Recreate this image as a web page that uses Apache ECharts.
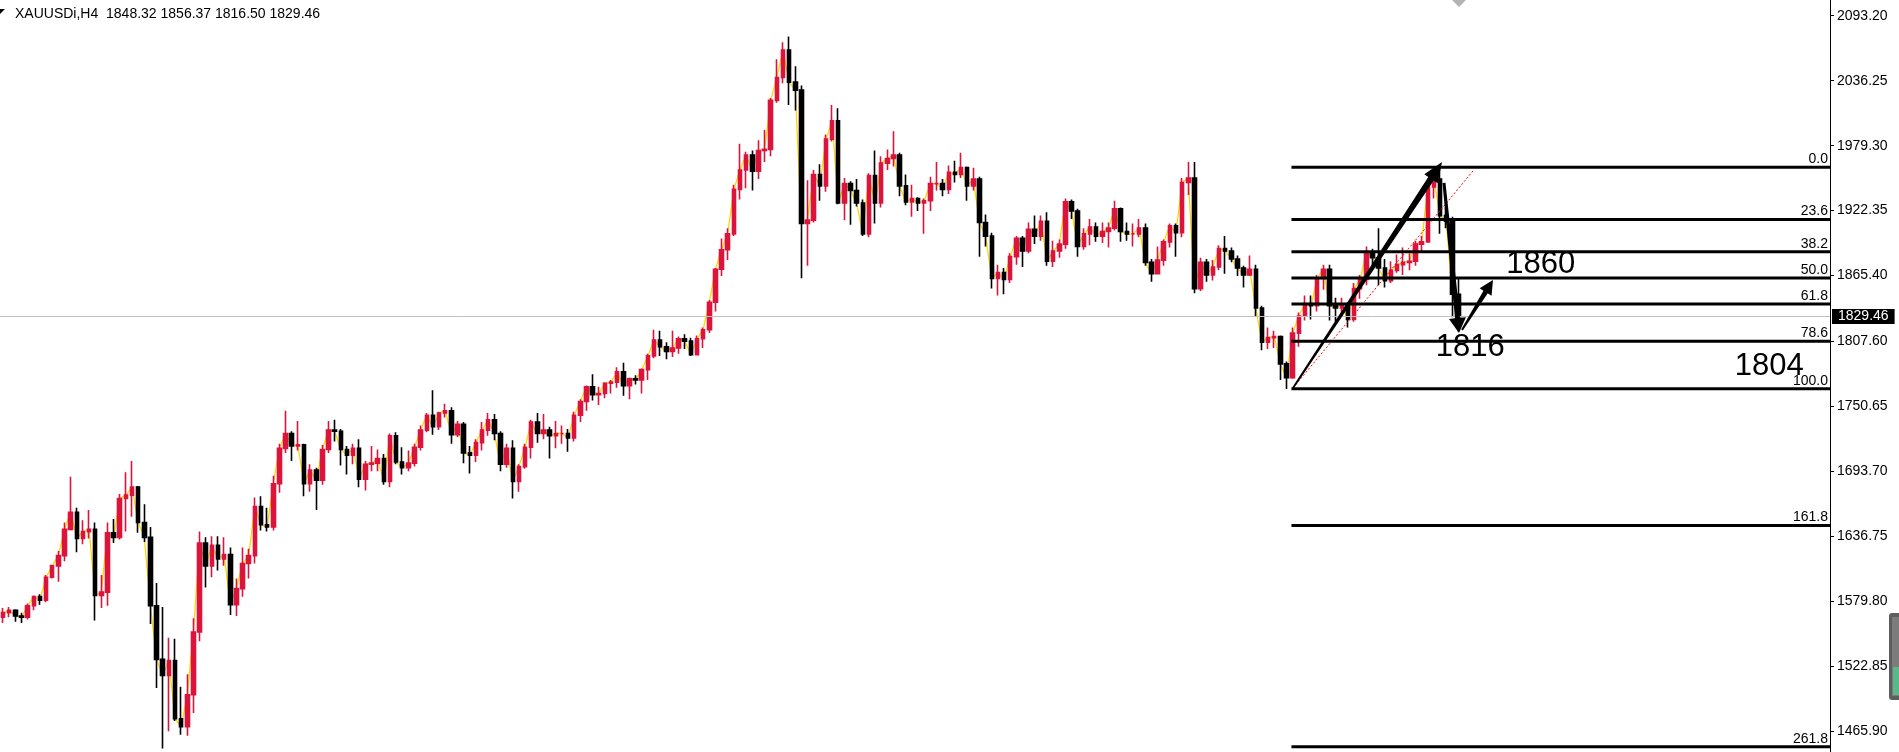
<!DOCTYPE html>
<html>
<head>
<meta charset="utf-8">
<script src="https://cdn.jsdelivr.net/npm/echarts@6/dist/echarts.min.js"></script>
<style>html,body{margin:0;padding:0;background:#fff}#c{width:1899px;height:752px}</style>
</head>
<body>
<div id="c"></div>
<script>
// ---------- data ----------
const symbolName = 'XAUUSDi,H4';
const lastBar = [1848.32, 1856.37, 1816.50, 1829.46];   // O H L C shown in the header
const currentPrice = 1829.46;

// [date, open, high, low, close]
const bars = [
['2020-02-07',1566,1574,1561,1570],['2020-02-10',1570,1575,1566,1572],['2020-02-11',1572,1573,1562,1567],
['2020-02-12',1567,1570,1561,1566],['2020-02-13',1566,1578,1564,1576],['2020-02-14',1576,1585,1572,1584],
['2020-02-17',1584,1586,1577,1581],['2020-02-18',1581,1603,1579,1601],['2020-02-19',1601,1612,1600,1611],
['2020-02-20',1611,1624,1597,1620],['2020-02-21',1620,1649,1615,1643],['2020-02-24',1643,1689,1642,1658],
['2020-02-25',1658,1662,1623,1635],['2020-02-26',1635,1651,1630,1641],['2020-02-27',1641,1660,1635,1643],
['2020-02-28',1643,1649,1563,1585],['2020-03-02',1585,1603,1574,1588],['2020-03-03',1588,1649,1576,1640],
['2020-03-04',1640,1652,1631,1636],['2020-03-05',1636,1674,1634,1670],['2020-03-06',1670,1693,1641,1673],
['2020-03-09',1673,1703,1654,1680],['2020-03-10',1680,1681,1640,1649],['2020-03-11',1649,1665,1632,1636],
['2020-03-12',1636,1645,1560,1576],['2020-03-13',1576,1596,1504,1529],['2020-03-16',1529,1575,1451,1515],
['2020-03-17',1515,1548,1466,1528],['2020-03-18',1528,1547,1475,1477],['2020-03-19',1477,1505,1463,1470],
['2020-03-20',1470,1516,1462,1498],['2020-03-23',1498,1565,1482,1553],['2020-03-24',1553,1641,1545,1631],
['2020-03-25',1631,1636,1592,1611],['2020-03-26',1611,1637,1601,1629],['2020-03-27',1629,1637,1607,1617],
['2020-03-30',1617,1636,1611,1621],['2020-03-31',1621,1627,1568,1577],['2020-04-01',1577,1600,1567,1591],
['2020-04-02',1591,1627,1584,1613],['2020-04-03',1613,1626,1600,1620],['2020-04-06',1620,1671,1613,1663],
['2020-04-07',1663,1672,1642,1647],['2020-04-08',1647,1662,1641,1645],['2020-04-09',1645,1690,1642,1683],
['2020-04-13',1683,1718,1675,1714],['2020-04-14',1714,1747,1710,1727],['2020-04-15',1727,1729,1703,1716],
['2020-04-16',1716,1738,1712,1717],['2020-04-17',1717,1718,1672,1683],['2020-04-20',1683,1700,1676,1695],
['2020-04-21',1695,1697,1660,1686],['2020-04-22',1686,1717,1682,1713],['2020-04-23',1713,1738,1710,1730],
['2020-04-24',1730,1739,1720,1729],['2020-04-27',1729,1731,1699,1713],['2020-04-28',1713,1716,1691,1708],
['2020-04-29',1708,1718,1700,1714],['2020-04-30',1714,1722,1680,1687],['2020-05-01',1687,1703,1677,1700],
['2020-05-04',1700,1716,1694,1701],['2020-05-05',1701,1713,1694,1705],['2020-05-06',1705,1709,1682,1685],
['2020-05-07',1685,1727,1680,1725],['2020-05-08',1725,1728,1700,1702],['2020-05-11',1702,1715,1691,1697],
['2020-05-12',1697,1712,1694,1701],['2020-05-13',1701,1718,1698,1715],['2020-05-14',1715,1734,1712,1730],
['2020-05-15',1730,1745,1728,1743],['2020-05-18',1743,1765,1726,1733],['2020-05-19',1733,1746,1730,1745],
['2020-05-20',1745,1753,1741,1747],['2020-05-21',1747,1750,1718,1726],['2020-05-22',1726,1738,1724,1735],
['2020-05-26',1735,1737,1701,1710],['2020-05-27',1710,1716,1692,1708],['2020-05-28',1708,1722,1702,1719],
['2020-05-29',1719,1737,1712,1730],['2020-06-01',1730,1745,1725,1739],['2020-06-02',1739,1744,1721,1727],
['2020-06-03',1727,1729,1694,1700],['2020-06-04',1700,1718,1697,1714],['2020-06-05',1714,1721,1670,1685],
['2020-06-08',1685,1700,1676,1698],['2020-06-09',1698,1718,1696,1715],['2020-06-10',1715,1739,1705,1737],
['2020-06-11',1737,1745,1719,1727],['2020-06-12',1727,1744,1722,1730],['2020-06-15',1730,1733,1705,1725],
['2020-06-16',1725,1738,1714,1727],['2020-06-17',1727,1734,1718,1727],['2020-06-18',1727,1731,1711,1723],
['2020-06-19',1723,1746,1720,1743],['2020-06-22',1743,1757,1737,1755],['2020-06-23',1755,1769,1747,1768],
['2020-06-24',1768,1779,1756,1761],['2020-06-25',1761,1768,1752,1762],['2020-06-26',1762,1772,1758,1771],
['2020-06-29',1771,1774,1762,1772],['2020-06-30',1772,1785,1767,1781],['2020-07-01',1781,1789,1760,1769],
['2020-07-02',1769,1776,1757,1775],['2020-07-03',1775,1778,1770,1774],['2020-07-06',1774,1784,1762,1783],
['2020-07-07',1783,1797,1774,1795],['2020-07-08',1795,1818,1793,1809],['2020-07-09',1809,1817,1795,1803],
['2020-07-10',1803,1807,1792,1799],['2020-07-13',1799,1817,1794,1802],['2020-07-14',1802,1812,1797,1810],
['2020-07-15',1810,1814,1801,1808],['2020-07-16',1808,1811,1795,1796],['2020-07-17',1796,1813,1796,1810],
['2020-07-20',1810,1820,1802,1818],['2020-07-21',1818,1844,1815,1842],['2020-07-22',1842,1872,1834,1871],
['2020-07-23',1871,1898,1865,1888],['2020-07-24',1888,1907,1879,1902],['2020-07-27',1902,1945,1900,1941],
['2020-07-28',1941,1981,1932,1958],['2020-07-29',1958,1974,1942,1971],['2020-07-30',1971,1975,1940,1957],
['2020-07-31',1957,1984,1950,1975],['2020-08-03',1975,1993,1965,1976],['2020-08-04',1976,2021,1970,2019],
['2020-08-05',2019,2055,2017,2039],['2020-08-06',2039,2070,2034,2063],['2020-08-07',2063,2075,2015,2035],
['2020-08-10',2035,2049,2010,2028],['2020-08-11',2028,2032,1863,1911],['2020-08-12',1911,1949,1874,1914],
['2020-08-13',1914,1958,1912,1954],['2020-08-14',1954,1963,1931,1944],['2020-08-17',1944,1989,1939,1985],
['2020-08-18',1985,2015,1983,2001],['2020-08-19',2001,2012,1928,1929],['2020-08-20',1929,1951,1914,1946],
['2020-08-21',1946,1948,1910,1940],['2020-08-24',1940,1950,1926,1929],['2020-08-25',1929,1932,1900,1902],
['2020-08-26',1902,1955,1899,1953],['2020-08-27',1953,1975,1911,1929],['2020-08-28',1929,1970,1925,1964],
['2020-08-31',1964,1976,1958,1968],['2020-09-01',1968,1992,1961,1971],['2020-09-02',1971,1973,1935,1944],
['2020-09-03',1944,1954,1927,1930],['2020-09-04',1930,1945,1917,1933],['2020-09-07',1933,1934,1922,1929],
['2020-09-08',1929,1933,1902,1931],['2020-09-09',1931,1952,1922,1946],['2020-09-10',1946,1965,1940,1946],
['2020-09-11',1946,1950,1935,1941],['2020-09-14',1941,1962,1937,1956],['2020-09-15',1956,1966,1947,1954],
['2020-09-16',1954,1973,1951,1960],['2020-09-17',1960,1961,1931,1944],['2020-09-18',1944,1960,1940,1950],
['2020-09-21',1950,1952,1882,1912],['2020-09-22',1912,1919,1891,1900],['2020-09-23',1900,1903,1854,1863],
['2020-09-24',1863,1875,1848,1868],['2020-09-25',1868,1872,1849,1862],['2020-09-28',1862,1885,1859,1882],
['2020-09-29',1882,1900,1875,1898],['2020-09-30',1898,1900,1873,1887],['2020-10-01',1887,1912,1885,1906],
['2020-10-02',1906,1918,1893,1900],['2020-10-05',1900,1918,1896,1913],['2020-10-06',1913,1921,1874,1878],
['2020-10-07',1878,1896,1873,1887],['2020-10-08',1887,1897,1881,1893],['2020-10-09',1893,1933,1889,1930],
['2020-10-12',1930,1932,1915,1922],['2020-10-13',1922,1924,1882,1891],['2020-10-14',1891,1907,1888,1902],
['2020-10-15',1902,1915,1892,1908],['2020-10-16',1908,1912,1895,1900],['2020-10-19',1900,1912,1894,1904],
['2020-10-20',1904,1912,1890,1907],['2020-10-21',1907,1931,1905,1924],['2020-10-22',1924,1925,1895,1904],
['2020-10-23',1904,1912,1896,1902],['2020-10-26',1902,1911,1891,1902],['2020-10-27',1902,1915,1899,1907],
['2020-10-28',1907,1911,1874,1877],['2020-10-29',1877,1880,1860,1867],['2020-10-30',1867,1891,1867,1879],
['2020-11-02',1879,1897,1874,1895],['2020-11-03',1895,1911,1890,1909],['2020-11-04',1909,1911,1882,1903],
['2020-11-05',1903,1951,1899,1947],['2020-11-06',1947,1965,1936,1951],['2020-11-09',1951,1965,1850,1854],
['2020-11-10',1854,1881,1852,1877],['2020-11-11',1877,1880,1860,1866],['2020-11-12',1866,1879,1861,1873],
['2020-11-13',1873,1892,1870,1889],['2020-11-16',1889,1900,1867,1887],['2020-11-17',1887,1890,1877,1880],
['2020-11-18',1880,1883,1865,1872],['2020-11-19',1872,1874,1855,1866],['2020-11-20',1866,1883,1865,1871],
['2020-11-23',1871,1875,1830,1837],['2020-11-24',1837,1839,1800,1807],['2020-11-25',1807,1820,1801,1811],
['2020-11-26',1811,1817,1802,1812],['2020-11-27',1812,1813,1774,1788],['2020-11-30',1788,1790,1766,1776],
['2020-12-01',1776,1820,1775,1815],['2020-12-02',1815,1833,1803,1830],['2020-12-03',1830,1848,1826,1841],
['2020-12-04',1841,1848,1827,1839],['2020-12-07',1839,1866,1834,1863],['2020-12-08',1863,1875,1853,1871],
['2020-12-09',1871,1875,1826,1839],['2020-12-10',1839,1846,1825,1837],['2020-12-11',1837,1846,1830,1840],
['2020-12-14',1840,1842,1820,1827],['2020-12-15',1827,1859,1825,1854],['2020-12-16',1854,1866,1845,1862],
['2020-12-17',1862,1891,1857,1886],['2020-12-18',1886,1889,1871,1881],['2020-12-21',1881,1907,1857,1872],
['2020-12-22',1872,1880,1855,1861],['2020-12-23',1861,1878,1859,1870],['2020-12-24',1870,1884,1868,1875],
['2020-12-28',1875,1890,1866,1877],['2020-12-29',1877,1885,1870,1878],['2020-12-30',1878,1896,1874,1893],
['2020-12-31',1893,1900,1887,1895],['2021-01-04',1895,1944,1895,1943],['2021-01-05',1943,1952,1933,1950],
['2021-01-06',1950,1960,1902,1918],['2021-01-07',1918,1925,1907,1913],['2021-01-08',1913,1917,1829,1849],
['2021-01-11',1849,1864,1816.5,1829.46]
];
const futureSlots = 60;   // empty space right of the last bar (chart shift)

// price axis labels
const yTicks = [1465.90, 1522.85, 1579.80, 1636.75, 1693.70, 1750.65, 1807.60, 1865.40, 1922.35, 1979.30, 2036.25, 2093.20];
const yMin = 1447.84, yMax = 2106.96;

// Fibonacci retracement (drawn object)
const fibLevels = ['0.0', '23.6', '38.2', '50.0', '61.8', '78.6', '100.0', '161.8', '261.8'];
const fibPrices = [1960.3, 1914.5, 1886.2, 1863.3, 1840.4, 1807.8, 1766.3, 1646.4, 1452.4];
const fibStartIndex = 209.8;

// other drawn objects: [barIndex, price]
const trendLine = [[210.05, 1766.9], [239.36, 1957.1]];
const arrows = [
  [[210.05, 1766.9], [234.32, 1964.9]],
  [[234.64, 1946.6], [237.08, 1815.1]],
  [[237.57, 1817.7], [242.62, 1861.5]]
];
const notes = [['1860', 250.4, 1875.6], ['1816', 238.9, 1802.0], ['1804', 287.6, 1785.6]];

// ---------- styles ----------
const arrowStyles = [
  {w0: 1.8, w1: 6.5, hl: 20, hw: 8},
  {w0: 3, w1: 5, hl: 15, hw: 8.5},
  {w0: 2, w1: 5, hl: 14, hw: 7}
];
const UP = '#DC143C', DOWN = '#000000';
const FONT = '"Liberation Sans", Arial, sans-serif';

// ---------- build ----------
const cats = bars.map(b => b[0]).concat(Array.from({length: futureSlots}, (_, i) => 'f' + i));
const ohlc = bars.map(b => [b[1], b[4], b[3], b[2]]);   // open, close, low, high
const closes = bars.map(b => b[4]);

function px(api, idx, price) {
  const i0 = Math.floor(idx);
  const p = api.coord([i0, price]);
  const band = api.size([1, 0])[0];
  return [p[0] + (idx - i0) * band, p[1]];
}
function arrowPoints(s, t, st) {
  const dx = t[0] - s[0], dy = t[1] - s[1], L = Math.hypot(dx, dy);
  const ux = dx / L, uy = dy / L, nx = -uy, ny = ux;
  const bx = t[0] - ux * st.hl, by = t[1] - uy * st.hl;
  return [
    [s[0] + nx * st.w0 / 2, s[1] + ny * st.w0 / 2],
    [bx + nx * st.w1 / 2, by + ny * st.w1 / 2],
    [bx + nx * st.hw, by + ny * st.hw],
    [t[0], t[1]],
    [bx - nx * st.hw, by - ny * st.hw],
    [bx - nx * st.w1 / 2, by - ny * st.w1 / 2],
    [s[0] - nx * st.w0 / 2, s[1] - ny * st.w0 / 2]
  ];
}

const chart = echarts.init(document.getElementById('c'), null, {renderer: 'canvas', width: 1899, height: 752});

const option = {
  animation: false,
  backgroundColor: '#ffffff',
  title: {
    text: symbolName + '  ' + lastBar.map(v => v.toFixed(2)).join(' '),
    left: 10, top: 2,
    textStyle: {fontFamily: FONT, fontSize: 14, fontWeight: 'normal', color: '#000'}
  },
  grid: {left: 0, right: 69, top: 0, bottom: 0, containLabel: false},
  xAxis: {
    type: 'category', data: cats, boundaryGap: true,
    axisLine: {show: false}, axisTick: {show: false}, axisLabel: {show: false}, splitLine: {show: false}
  },
  yAxis: {
    type: 'value', position: 'right', min: yMin, max: yMax,
    axisLine: {show: true, lineStyle: {color: '#000', width: 1}},
    axisTick: {show: true, length: 4, customValues: yTicks, lineStyle: {color: '#000', width: 1}},
    axisLabel: {customValues: yTicks, formatter: v => Number(v).toFixed(2), color: '#000',
                fontFamily: FONT, fontSize: 14, margin: 7},
    splitLine: {show: false}
  },
  series: [
    {
      type: 'line', name: 'close', data: closes, z: 1, silent: true,
      showSymbol: false, symbol: 'none',
      lineStyle: {color: '#FFD700', width: 1.3},
      markLine: {
        silent: true, symbol: ['none', 'none'], animation: false,
        data: [{yAxis: currentPrice}],
        lineStyle: {color: '#c0c0c0', width: 1, type: 'solid'},
        label: {show: true, position: 'end', formatter: () => currentPrice.toFixed(2),
                color: '#fff', backgroundColor: '#000', fontFamily: FONT, fontSize: 14,
                padding: [1, 6, 0, 6], distance: 2}
      }
    },
    {
      type: 'candlestick', name: symbolName, data: ohlc, z: 3, silent: true,
      barWidth: 4,
      itemStyle: {color: UP, color0: DOWN, borderColor: UP, borderColor0: DOWN, borderWidth: 1.6}
    },
    {
      type: 'custom', name: 'trend', z: 4, silent: true,
      data: [[0, fibPrices[0], 0]],
      renderItem: (params, api) => {
        const a = px(api, trendLine[0][0], trendLine[0][1]);
        const b = px(api, trendLine[1][0], trendLine[1][1]);
        return {type: 'line', shape: {x1: a[0], y1: a[1], x2: b[0], y2: b[1]},
                style: {stroke: '#ff0000', lineWidth: 1, lineDash: [2, 2]}};
      }
    },
    {
      type: 'custom', name: 'fibo', z: 5, silent: true,
      data: fibPrices.map((p, i) => [0, p, i]),
      renderItem: (params, api) => {
        const i = api.value(2);
        const p = px(api, fibStartIndex, fibPrices[i]);
        const right = params.coordSys.x + params.coordSys.width;
        return {type: 'group', children: [
          {type: 'line', shape: {x1: p[0], y1: p[1], x2: right, y2: p[1]},
           style: {stroke: '#000', lineWidth: 3}},
          {type: 'text', style: {text: fibLevels[i], x: right - 2, y: p[1] - 8,
           align: 'right', verticalAlign: 'middle', font: '14px ' + FONT, fill: '#000'}}
        ]};
      }
    },
    {
      type: 'custom', name: 'arrows', z: 6, silent: true,
      data: arrows.map((a, i) => [0, a[1][1], i]),
      renderItem: (params, api) => {
        const i = api.value(2);
        const s = px(api, arrows[i][0][0], arrows[i][0][1]);
        const t = px(api, arrows[i][1][0], arrows[i][1][1]);
        return {type: 'polygon', shape: {points: arrowPoints(s, t, arrowStyles[i])}, style: {fill: '#000'}};
      }
    },
    {
      type: 'custom', name: 'notes', z: 7, silent: true,
      data: notes.map((n, i) => [0, n[2], i]),
      renderItem: (params, api) => {
        const i = api.value(2);
        const p = px(api, notes[i][1], notes[i][2]);
        return {type: 'text', style: {text: notes[i][0], x: p[0], y: p[1], align: 'center',
                verticalAlign: 'middle', font: '31px ' + FONT, fill: '#000'}};
      }
    }
  ],
  graphic: [
    {type: 'polygon', shape: {points: [[0, 9], [5, 9], [0, 14]]}, style: {fill: '#000'}, silent: true},
    {type: 'polygon', shape: {points: [[1452, 0], [1466, 0], [1459, 7]]}, style: {fill: '#b4b4b4'}, silent: true},
    {type: 'rect', shape: {x: 1889, y: 613, width: 16, height: 87, r: 3}, style: {fill: '#5e5e5e'}, silent: true},
    {type: 'rect', shape: {x: 1892, y: 617, width: 10, height: 79}, style: {fill: '#7c7c7c'}, silent: true},
    {type: 'rect', shape: {x: 1893, y: 667, width: 8, height: 28}, style: {fill: '#58b98a'}, silent: true}
  ]
};
chart.setOption(option);
</script>
</body>
</html>
